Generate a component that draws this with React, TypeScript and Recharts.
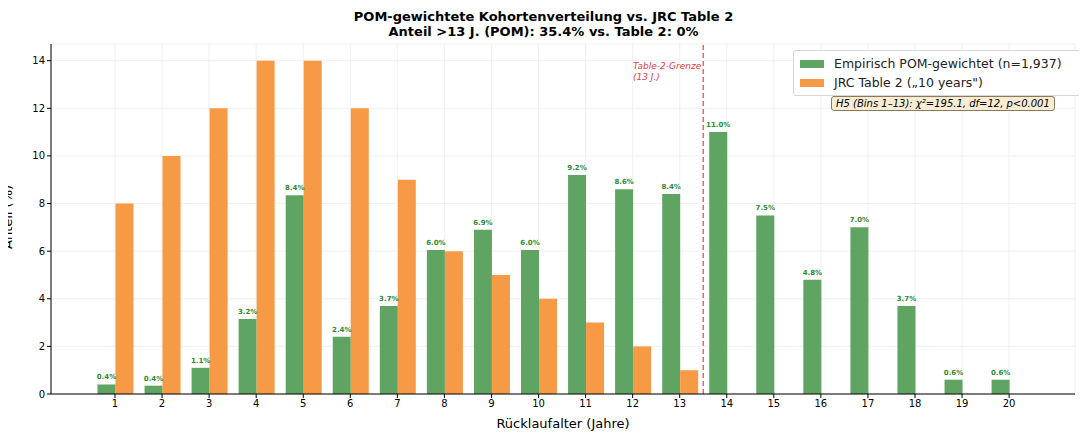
import React from "react";
import { BarChart, Bar, XAxis, YAxis, CartesianGrid, ReferenceLine, LabelList } from "recharts";

const ages = [1, 2, 3, 4, 5, 6, 7, 8, 9, 10, 11, 12, 13, 14, 15, 16, 17, 18, 19, 20];
const empirical = [0.4, 0.35, 1.1, 3.15, 8.35, 2.4, 3.7, 6.05, 6.9, 6.05, 9.2, 8.6, 8.4, 11.0, 7.5, 4.8, 7.0, 3.7, 0.6, 0.6];
const empiricalLabels = ["0.4%", "0.4%", "1.1%", "3.2%", "8.4%", "2.4%", "3.7%", "6.0%", "6.9%", "6.0%", "9.2%", "8.6%", "8.4%", "11.0%", "7.5%", "4.8%", "7.0%", "3.7%", "0.6%", "0.6%"];
const jrc = [8, 10, 12, 14, 14, 12, 9, 6, 5, 4, 3, 2, 1, 0, 0, 0, 0, 0, 0, 0];
const yTicks = [0, 2, 4, 6, 8, 10, 12, 14];

const data = ages.map((a, i) => ({ age: a, emp: empirical[i], jrc: jrc[i], lab: empiricalLabels[i] }));
const font = "DejaVu Sans, sans-serif";

export default function App() {
  return (
    <div style={{ position: "relative", width: 1087, height: 441, margin: -8, background: "#fff", fontFamily: font }}>
      <div style={{ position: "absolute", top: 9, width: 1087, textAlign: "center", fontWeight: "bold", fontSize: 13, lineHeight: "15px", color: "#000" }}>
        POM-gewichtete Kohortenverteilung vs. JRC Table 2<br />Anteil &gt;13 J. (POM): 35.4%  vs.  Table 2: 0%
      </div>
      <BarChart width={1087} height={441} data={data} margin={{ top: 44, right: 12, bottom: 11, left: 21 }} barGap={0}>
        <CartesianGrid stroke="#ececec" strokeWidth={0.8} />
        <XAxis
          dataKey="age"
          type="number"
          domain={[-0.36, 21.4]}
          ticks={ages}
          interval={0}
          tick={{ fontSize: 10, fill: "#000", fontFamily: font }}
          tickLine={{ stroke: "#000" }}
          axisLine={{ stroke: "#000" }}
          tickSize={4}
          height={36}
          label={{ value: "Rücklaufalter (Jahre)", position: "insideBottom", offset: 2, fontSize: 13, fill: "#000", fontFamily: font }}
        />
        <YAxis
          type="number"
          domain={[0, 14.7]}
          ticks={yTicks}
          tick={{ fontSize: 10, fill: "#000", fontFamily: font }}
          tickLine={{ stroke: "#000" }}
          axisLine={{ stroke: "#000" }}
          tickSize={4}
          width={30}
          label={{ value: "Anteil (%)", angle: -90, position: "insideLeft", offset: -14, fontSize: 13, fill: "#000", fontFamily: font, dy: 30 }}
        />
        <ReferenceLine x={13.5} stroke="#e8413c" strokeDasharray="5 3" strokeWidth={1.4} strokeOpacity={0.85} />
        <Bar dataKey="emp" fill="#5fa463" barSize={18} isAnimationActive={false}>
          <LabelList dataKey="lab" position="top" offset={5} fontSize={7} fontWeight="bold" fill="#2e8b34" fontFamily={font} />
        </Bar>
        <Bar dataKey="jrc" fill="#f79a45" barSize={18} isAnimationActive={false} />
      </BarChart>
      <div style={{ position: "absolute", left: 633, top: 61, color: "#e0403a", fontStyle: "italic", fontSize: 9, lineHeight: "11px" }}>
        Table-2-Grenze<br />(13 J.)
      </div>
      <div style={{ position: "absolute", left: 793, top: 50, width: 274, border: "1px solid #d6d6d6", borderRadius: 3, background: "rgba(255,255,255,0.9)", padding: "3px 6px", fontSize: 12.5, lineHeight: "19px", color: "#222" }}>
        {[["#5fa463", "Empirisch POM-gewichtet (n=1,937)"], ["#f79a45", "JRC Table 2 („10 years\")"]].map(([c, t]) => (
          <div key={t} style={{ display: "flex", alignItems: "center" }}>
            <span style={{ display: "inline-block", width: 24, height: 8, background: c, marginRight: 10 }} />
            {t}
          </div>
        ))}
      </div>
      <div style={{ position: "absolute", left: 831, top: 96, border: "1px solid #8a7a5a", borderRadius: 3, background: "#f8ecd4", padding: "0px 4px", fontSize: 10, lineHeight: "13px", fontStyle: "italic", color: "#000" }}>
        H5 (Bins 1–13): χ²=195.1, df=12, p&lt;0.001
      </div>
    </div>
  );
}
